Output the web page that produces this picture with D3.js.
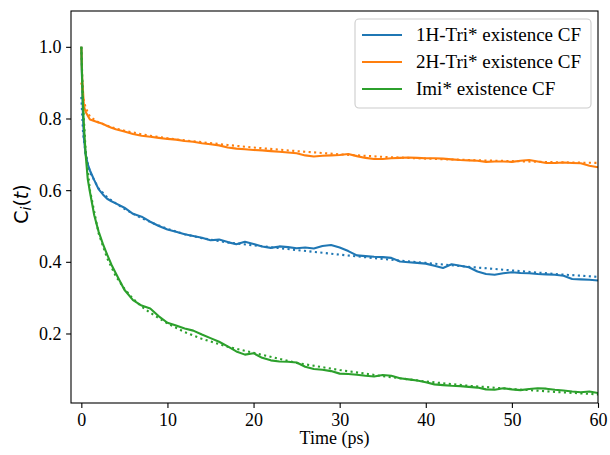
<!DOCTYPE html>
<html>
<head>
<script src="https://cdn.jsdelivr.net/npm/d3@7"></script>
<style>
  body { margin: 0; background: #fff; }
  svg { display: block; }
  .tick text { font-family: "Liberation Serif", "Times New Roman", serif; font-size: 18px; fill: #000; }
</style>
</head>
<body>
<div id="chart"></div>
<script>
// time axis of the measured CFs (ps)
var times = [0, 0.1, 0.2, 0.3, 0.5, 0.75, 1, 1.5, 2, 2.5, 3, 3.5, 4, 5, 6, 7, 8, 9, 10,
  11, 12, 13, 14, 15, 16, 17, 18, 19, 20, 21, 22, 23, 24, 25, 26, 27, 28, 29, 30,
  31, 32, 33, 34, 35, 36, 37, 38, 39, 40, 41, 42, 43, 44, 45, 46, 47, 48, 49, 50,
  51, 52, 53, 54, 55, 56, 57, 58, 59, 60];

var tri1H = [1.0, 0.89, 0.80, 0.745, 0.700, 0.672, 0.655, 0.628, 0.603, 0.588, 0.576, 0.569, 0.563, 0.551, 0.534, 0.526, 0.512, 0.500, 0.490,
  0.484, 0.477, 0.472, 0.467, 0.460, 0.462, 0.455, 0.449, 0.456, 0.450, 0.443, 0.439, 0.443, 0.441, 0.438, 0.440, 0.437, 0.444, 0.447, 0.440,
  0.430, 0.418, 0.416, 0.414, 0.413, 0.411, 0.401, 0.399, 0.397, 0.395, 0.389, 0.383, 0.393, 0.389, 0.385, 0.373, 0.366, 0.364, 0.368, 0.371,
  0.369, 0.368, 0.366, 0.365, 0.364, 0.361, 0.352, 0.351, 0.350, 0.348];

var tri2H = [1.0, 0.91, 0.875, 0.835, 0.818, 0.808, 0.797, 0.793, 0.789, 0.785, 0.779, 0.774, 0.770, 0.764, 0.757, 0.752, 0.749, 0.746, 0.743,
  0.741, 0.737, 0.735, 0.731, 0.728, 0.725, 0.719, 0.716, 0.714, 0.712, 0.711, 0.709, 0.707, 0.705, 0.703, 0.697, 0.694, 0.696, 0.697, 0.698,
  0.701, 0.695, 0.690, 0.687, 0.687, 0.689, 0.690, 0.691, 0.690, 0.689, 0.689, 0.688, 0.686, 0.684, 0.683, 0.682, 0.679, 0.680, 0.680, 0.679,
  0.682, 0.684, 0.680, 0.676, 0.676, 0.677, 0.676, 0.675, 0.668, 0.664];

var imi = [1.0, 0.90, 0.833, 0.78, 0.70, 0.63, 0.595, 0.530, 0.485, 0.450, 0.420, 0.392, 0.368, 0.322, 0.293, 0.278, 0.270, 0.248, 0.230,
  0.222, 0.214, 0.208, 0.197, 0.187, 0.177, 0.164, 0.150, 0.141, 0.145, 0.132, 0.125, 0.122, 0.121, 0.119, 0.107, 0.101, 0.099, 0.095, 0.088,
  0.087, 0.085, 0.082, 0.080, 0.084, 0.082, 0.075, 0.072, 0.069, 0.064, 0.058, 0.056, 0.054, 0.053, 0.051, 0.049, 0.044, 0.043, 0.047, 0.044,
  0.042, 0.045, 0.047, 0.046, 0.043, 0.041, 0.038, 0.036, 0.038, 0.034];

// fitted curves (dotted)
var fitTimes = [0, 0.2, 0.5, 1, 2, 3, 4, 5, 6, 7, 8, 10, 12, 14, 17, 20, 25, 30, 35, 40, 45, 50, 55, 60];
var fit1H = [0.86, 0.76, 0.70, 0.65, 0.605, 0.58, 0.563, 0.548, 0.534, 0.522, 0.511, 0.492, 0.477, 0.466, 0.454, 0.446, 0.433, 0.420, 0.408, 0.397, 0.386, 0.376, 0.366, 0.358];
var fit2H = [0.90, 0.86, 0.83, 0.805, 0.789, 0.780, 0.772, 0.766, 0.761, 0.756, 0.752, 0.745, 0.739, 0.734, 0.726, 0.719, 0.709, 0.700, 0.693, 0.688, 0.684, 0.681, 0.678, 0.676];
var fitImi = [1.0, 0.84, 0.71, 0.60, 0.48, 0.41, 0.36, 0.325, 0.297, 0.275, 0.258, 0.228, 0.204, 0.185, 0.163, 0.146, 0.118, 0.098, 0.081, 0.066, 0.054, 0.045, 0.037, 0.030];

var labels = ["1H-Tri* existence CF", "2H-Tri* existence CF", "Imi* existence CF"];
var colors = ["#1f77b4", "#ff7f0e", "#2ca02c"];
var xTicks = [0, 10, 20, 30, 40, 50, 60];
var yTicks = [0.2, 0.4, 0.6, 0.8, 1.0];

var W = 610, H = 455;
var margin = { top: 11, right: 12, bottom: 52, left: 71 };
var width = W - margin.left - margin.right;
var height = H - margin.top - margin.bottom;

var svg = d3.select("#chart").append("svg")
  .attr("width", W).attr("height", H);

var g = svg.append("g")
  .attr("transform", "translate(" + margin.left + "," + margin.top + ")");

var x = d3.scaleLinear().domain([-1.2, 60]).range([0, width]);
var y = d3.scaleLinear().domain([0.006, 1.1]).range([height, 0]);

g.append("clipPath").attr("id", "clip")
  .append("rect").attr("width", width).attr("height", height);

var series = [
  { vals: tri1H, fit: fit1H },
  { vals: tri2H, fit: fit2H },
  { vals: imi, fit: fitImi }
];

var line = d3.line().x(function (d) { return x(d[0]); }).y(function (d) { return y(d[1]); });

var plot = g.append("g").attr("clip-path", "url(#clip)");
series.forEach(function (s, i) {
  plot.append("path")
    .datum(times.map(function (t, j) { return [t, s.vals[j]]; }))
    .attr("d", line)
    .attr("fill", "none")
    .attr("stroke", colors[i])
    .attr("stroke-width", 2.1)
    .attr("stroke-linejoin", "round");
  plot.append("path")
    .datum(fitTimes.map(function (t, j) { return [t, s.fit[j]]; }))
    .attr("d", line)
    .attr("fill", "none")
    .attr("stroke", colors[i])
    .attr("stroke-width", 2.1)
    .attr("stroke-dasharray", "2.1,3.4");
});

// axes
var xAxis = g.append("g")
  .attr("transform", "translate(0," + height + ")")
  .call(d3.axisBottom(x).tickValues(xTicks).tickFormat(d3.format("d")).tickSize(4.9).tickPadding(5));
var yAxis = g.append("g")
  .call(d3.axisLeft(y).tickValues(yTicks).tickFormat(d3.format(".1f")).tickSize(4.9).tickPadding(4.5));
[xAxis, yAxis].forEach(function (a) {
  a.select(".domain").remove();
  a.selectAll(".tick line").attr("stroke", "#000").attr("stroke-width", 1.1);
});
yAxis.selectAll(".tick text").attr("dy", "0.34em");

g.append("rect")
  .attr("width", width).attr("height", height)
  .attr("fill", "none").attr("stroke", "#000").attr("stroke-width", 1.1);

// axis labels
svg.append("text")
  .attr("x", margin.left + width / 2).attr("y", 444)
  .attr("text-anchor", "middle")
  .style("font-family", "Liberation Serif, serif").style("font-size", "18px")
  .text("Time (ps)");

var yl = svg.append("text")
  .attr("transform", "translate(28," + (margin.top + height / 2 - 3) + ") rotate(-90)")
  .attr("text-anchor", "middle")
  .style("font-family", "DejaVu Sans, sans-serif").style("font-size", "19px");
yl.append("tspan").text("C");
yl.append("tspan").attr("dy", 3).style("font-size", "14px").style("font-style", "italic").text("i");
yl.append("tspan").attr("dy", -3).text("(");
yl.append("tspan").style("font-style", "italic").text("t");
yl.append("tspan").text(")");

// legend
var lg = svg.append("g");
lg.append("rect")
  .attr("x", 355).attr("y", 19).attr("width", 236).attr("height", 89)
  .attr("rx", 4).attr("fill", "#fff").attr("fill-opacity", 0.8)
  .attr("stroke", "#ccc").attr("stroke-width", 1.1);
labels.forEach(function (lab, i) {
  var cy = 35 + i * 27;
  lg.append("line")
    .attr("x1", 362).attr("x2", 402).attr("y1", cy).attr("y2", cy)
    .attr("stroke", colors[i]).attr("stroke-width", 2.1);
  lg.append("text")
    .attr("x", 416).attr("y", cy + 6)
    .style("font-family", "Liberation Serif, serif").style("font-size", "19px")
    .text(lab);
});
</script>
</body>
</html>
